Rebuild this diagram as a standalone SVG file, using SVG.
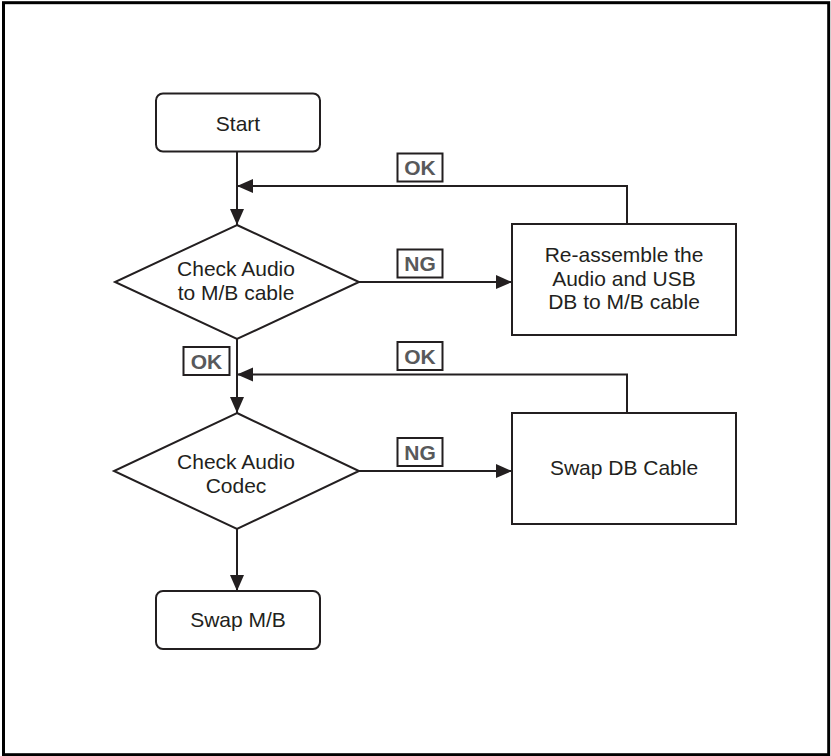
<svg xmlns="http://www.w3.org/2000/svg" width="831" height="756" viewBox="0 0 831 756">
<style>
.box{fill:#fff;stroke:#231f20;stroke-width:2}
.t{font-family:"Liberation Sans",Arial,sans-serif;font-size:21px;fill:#231f20;text-anchor:middle}
.lb{fill:#fff;stroke:#231f20;stroke-width:2}
.lt{font-family:"Liberation Sans",Arial,sans-serif;font-size:21px;font-weight:bold;fill:#58595b;text-anchor:middle}
.c{fill:none;stroke:#231f20;stroke-width:2}
</style>
<defs>
<marker id="ah" markerUnits="userSpaceOnUse" markerWidth="18" markerHeight="16" refX="16" refY="7" orient="auto">
<path d="M0,0 L16,7 L0,14 Z" fill="#231f20"/>
</marker>
</defs>
<rect x="3.5" y="2.7" width="825.2" height="752" fill="#fff" stroke="#000" stroke-width="3"/>
<g id="connectors">
<path class="c" d="M237,151 V225" marker-end="url(#ah)"/>
<path class="c" d="M627,224 V186 H237" marker-end="url(#ah)"/>
<path class="c" d="M358,282 H512" marker-end="url(#ah)"/>
<path class="c" d="M237,338 V413" marker-end="url(#ah)"/>
<path class="c" d="M627,413 V374.5 H237" marker-end="url(#ah)"/>
<path class="c" d="M359,471 H512" marker-end="url(#ah)"/>
<path class="c" d="M237,528 V591" marker-end="url(#ah)"/>
</g>
<g id="start">
<rect class="box" x="156" y="93.5" width="164" height="58" rx="7"/>
<text class="t" x="238" y="131">Start</text>
</g>
<g id="check1">
<polygon class="box" points="237,225 359,282 237,339 115,282"/>
<text class="t" x="236" y="276">Check Audio</text>
<text class="t" x="236" y="300">to M/B cable</text>
</g>
<g id="reassemble">
<rect class="box" x="512" y="224" width="224" height="111"/>
<text class="t" x="624" y="262">Re-assemble the</text>
<text class="t" x="624" y="285.5">Audio and USB</text>
<text class="t" x="624" y="309">DB to M/B cable</text>
</g>
<g id="check2">
<polygon class="box" points="237,413 359,471 237,529 114,471"/>
<text class="t" x="236" y="469">Check Audio</text>
<text class="t" x="236" y="493">Codec</text>
</g>
<g id="swapdb">
<rect class="box" x="512" y="413" width="224" height="111"/>
<text class="t" x="624" y="475">Swap DB Cable</text>
</g>
<g id="swapmb">
<rect class="box" x="156" y="591" width="164" height="58" rx="7"/>
<text class="t" x="238" y="627">Swap M/B</text>
</g>
<g id="label-ok1">
<rect class="lb" x="397.5" y="153.5" width="45" height="28"/>
<text class="lt" x="420" y="175">OK</text>
</g>
<g id="label-ng1">
<rect class="lb" x="397.5" y="249.5" width="45" height="28"/>
<text class="lt" x="420" y="271">NG</text>
</g>
<g id="label-ok2">
<rect class="lb" x="183.5" y="347" width="46" height="28"/>
<text class="lt" x="206.5" y="368.5">OK</text>
</g>
<g id="label-ok3">
<rect class="lb" x="397.5" y="342" width="45" height="28"/>
<text class="lt" x="420" y="363.5">OK</text>
</g>
<g id="label-ng2">
<rect class="lb" x="397.5" y="438" width="45" height="28"/>
<text class="lt" x="420" y="459.5">NG</text>
</g>
</svg>
